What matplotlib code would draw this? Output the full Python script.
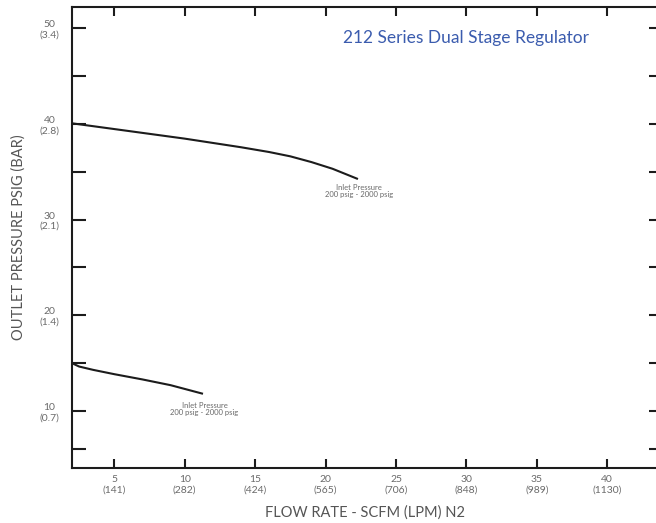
import matplotlib
matplotlib.use("Agg")
import matplotlib.pyplot as plt

plt.rcParams['font.family'] = ['Lato', 'DejaVu Sans']
plt.rcParams['font.weight'] = 'normal'

# Data
flow_upper = [2.0, 4.0, 6.0, 8.0, 10.0, 12.0, 14.0, 16.0, 17.5, 19.0, 20.5, 22.3]
press_upper = [40.05, 39.65, 39.25, 38.85, 38.45, 38.0, 37.55, 37.05, 36.6, 36.0, 35.3, 34.23]

flow_lower = [2.0, 2.5, 3.5, 5.0, 7.0, 9.0, 11.3]
press_lower = [15.0, 14.65, 14.3, 13.85, 13.3, 12.7, 11.8]

x_ticks = [5, 10, 15, 20, 25, 30, 35, 40]
x_ticklabels = ["5\n(141)", "10\n(282)", "15\n(424)", "20\n(565)",
                "25\n(706)", "30\n(848)", "35\n(989)", "40\n(1130)"]
y_ticks = [6, 10, 15, 20, 25, 30, 35, 40, 45, 50]
y_ticklabels = ["", "10\n(0.7)", "", "20\n(1.4)", "", "30\n(2.1)", "",
                "40\n(2.8)", "", "50\n(3.4)"]

title = "212 Series Dual Stage Regulator"
note = "Inlet Pressure\n200 psig - 2000 psig"
xlabel = "FLOW RATE - SCFM (LPM) N2"
ylabel = "OUTLET PRESSURE PSIG (BAR)"

W, H = 656, 523
fig = plt.figure(figsize=(W / 100, H / 100), dpi=100)
ax = fig.add_axes([72 / W, 55 / H, (658 - 72) / W, (468 - 6.5) / H])

line_col = '#1c1c1c'
text_col = '#6a6a6a'

ax.plot(flow_upper, press_upper, color=line_col, lw=1.5, solid_capstyle='butt')
ax.plot(flow_lower, press_lower, color=line_col, lw=1.5, solid_capstyle='butt')

ax.set_xlim(2, 43.6)
ax.set_ylim(4.05, 52.25)

for s in ['left', 'top', 'bottom']:
    ax.spines[s].set_linewidth(1.5)
    ax.spines[s].set_color(line_col)
ax.spines['right'].set_visible(False)

ax.set_xticks(x_ticks)
ax.set_xticklabels(x_ticklabels)
ax.set_yticks(y_ticks)
ax.set_yticklabels(y_ticklabels)

ax.tick_params(axis='x', direction='in', top=True, bottom=True, length=6.5,
               width=1.5, color=line_col, labelsize=7.5, labelcolor=text_col, pad=5)
ax.tick_params(axis='y', direction='in', left=True, right=True, length=10,
               width=1.5, color=line_col, labelsize=7.5, labelcolor=text_col, pad=9)

for lab in ax.get_xticklabels():
    lab.set_multialignment('center')
for lab in ax.get_yticklabels():
    lab.set_multialignment('center')
for t in ax.yaxis.get_major_ticks():
    t.tick2line.set_markersize(6.5)

ax.set_xlabel(xlabel, color='#555555', fontsize=10.5, labelpad=8)
ax.set_ylabel(ylabel, color='#555555', fontsize=10.5, labelpad=10)

ax.text((466 - 72) / 586, (468 - 38) / 461.5, title, transform=ax.transAxes,
        ha='center', va='center', color='#3b5cae', fontsize=12.5)

ax.text(22.4, 33.0, note, ha='center', va='center', fontsize=5.5,
        color=text_col, linespacing=1.1)
ax.text(11.4, 10.2, note, ha='center', va='center', fontsize=5.5,
        color=text_col, linespacing=1.1)

fig.savefig("out.png", dpi=100)
